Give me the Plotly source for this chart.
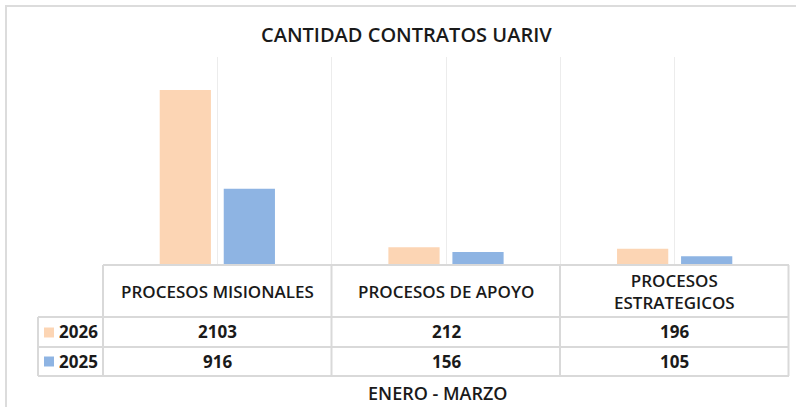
import plotly.graph_objects as go

categories = ["PROCESOS MISIONALES", "PROCESOS DE APOYO", "PROCESOS<br>ESTRATEGICOS"]
series_names = ["2026", "2025"]
values_2026 = [2103, 212, 196]
values_2025 = [916, 156, 105]
colors = ["#FCD5B4", "#8EB4E3"]
title = "CANTIDAD CONTRATOS UARIV"
x_title = "ENERO - MARZO"

W, H = 796, 407
L, R, T, B = 103, 789, 57, 265  # plot area in pixels


def px(x):
    return (x - L) / (R - L)


def py(y):
    return (B - y) / (B - T)


FONT = "Open Sans"
TXT = "#1a1a1a"
LINE = "#d9d9d9"

xs = list(range(len(categories)))
fig = go.Figure()
for name, vals, col in zip(series_names, [values_2026, values_2025], colors):
    fig.add_trace(go.Bar(x=xs, y=vals, name=name, marker=dict(color=col, line=dict(width=0)),
                         hoverinfo="x+y"))

fig.update_layout(
    width=W, height=H,
    margin=dict(l=L, r=W - R, t=T, b=H - B, pad=0),
    paper_bgcolor="white", plot_bgcolor="white",
    barmode="group", bargap=0.44, bargroupgap=0.2,
    showlegend=False,
    font=dict(family=FONT, color=TXT),
    xaxis=dict(range=[-0.5, len(categories) - 0.5], tick0=-0.5, dtick=0.5, showgrid=True,
               gridcolor="#ececec", gridwidth=1, showticklabels=False, zeroline=False,
               showline=False, ticks=""),
    yaxis=dict(range=[0, 2500], visible=False, showgrid=False),
)

shapes = []
# outer frame
shapes.append(dict(type="rect", xref="paper", yref="paper", x0=px(6), x1=px(830), y0=py(440), y1=py(6),
                   line=dict(color="#dcdcdc", width=2), layer="below"))
# table horizontal lines
for y, x0 in [(265, 103), (317, 38), (347, 38), (376, 38)]:
    shapes.append(dict(type="line", xref="paper", yref="paper", x0=px(x0), x1=px(789), y0=py(y), y1=py(y),
                       line=dict(color=LINE, width=2)))
# table vertical lines
for x in [103, 331.5, 560, 788.5]:
    shapes.append(dict(type="line", xref="paper", yref="paper", x0=px(x), x1=px(x), y0=py(265), y1=py(376),
                       line=dict(color=LINE, width=2)))
shapes.append(dict(type="line", xref="paper", yref="paper", x0=px(38), x1=px(38), y0=py(317), y1=py(376),
                   line=dict(color=LINE, width=2)))
# legend keys
for y, col in [(332.5, colors[0]), (361.5, colors[1])]:
    shapes.append(dict(type="rect", xref="paper", yref="paper", x0=px(44), x1=px(54), y0=py(y + 5), y1=py(y - 5),
                       fillcolor=col, line=dict(width=0)))

ann = []


def add(text, x, y, size, weight, xref="paper", xanchor="center"):
    ann.append(dict(text=text, xref=xref, yref="paper", x=x, y=y, xanchor=xanchor, yanchor="middle",
                    showarrow=False, font=dict(size=size, family=FONT, color=TXT, weight=weight)))


add(title, px(406.5), py(35), 20, 600)
add(x_title, px(437.5), py(393), 18, 600)
for i, c in enumerate(categories):
    add(c, i, py(291), 17, 600, xref="x")
for vals, y in [(values_2026, 331.5), (values_2025, 361)]:
    for i, v in enumerate(vals):
        add(f"{v}", i, py(y), 17, 700, xref="x")
for name, y in zip(series_names, [331.5, 361]):
    add(name, px(57), py(y), 17, 700, xanchor="left")

fig.update_layout(shapes=shapes, annotations=ann)
fig.write_html("out.html", config={"displayModeBar": False},
               post_script="document.body.style.margin='0px';")
